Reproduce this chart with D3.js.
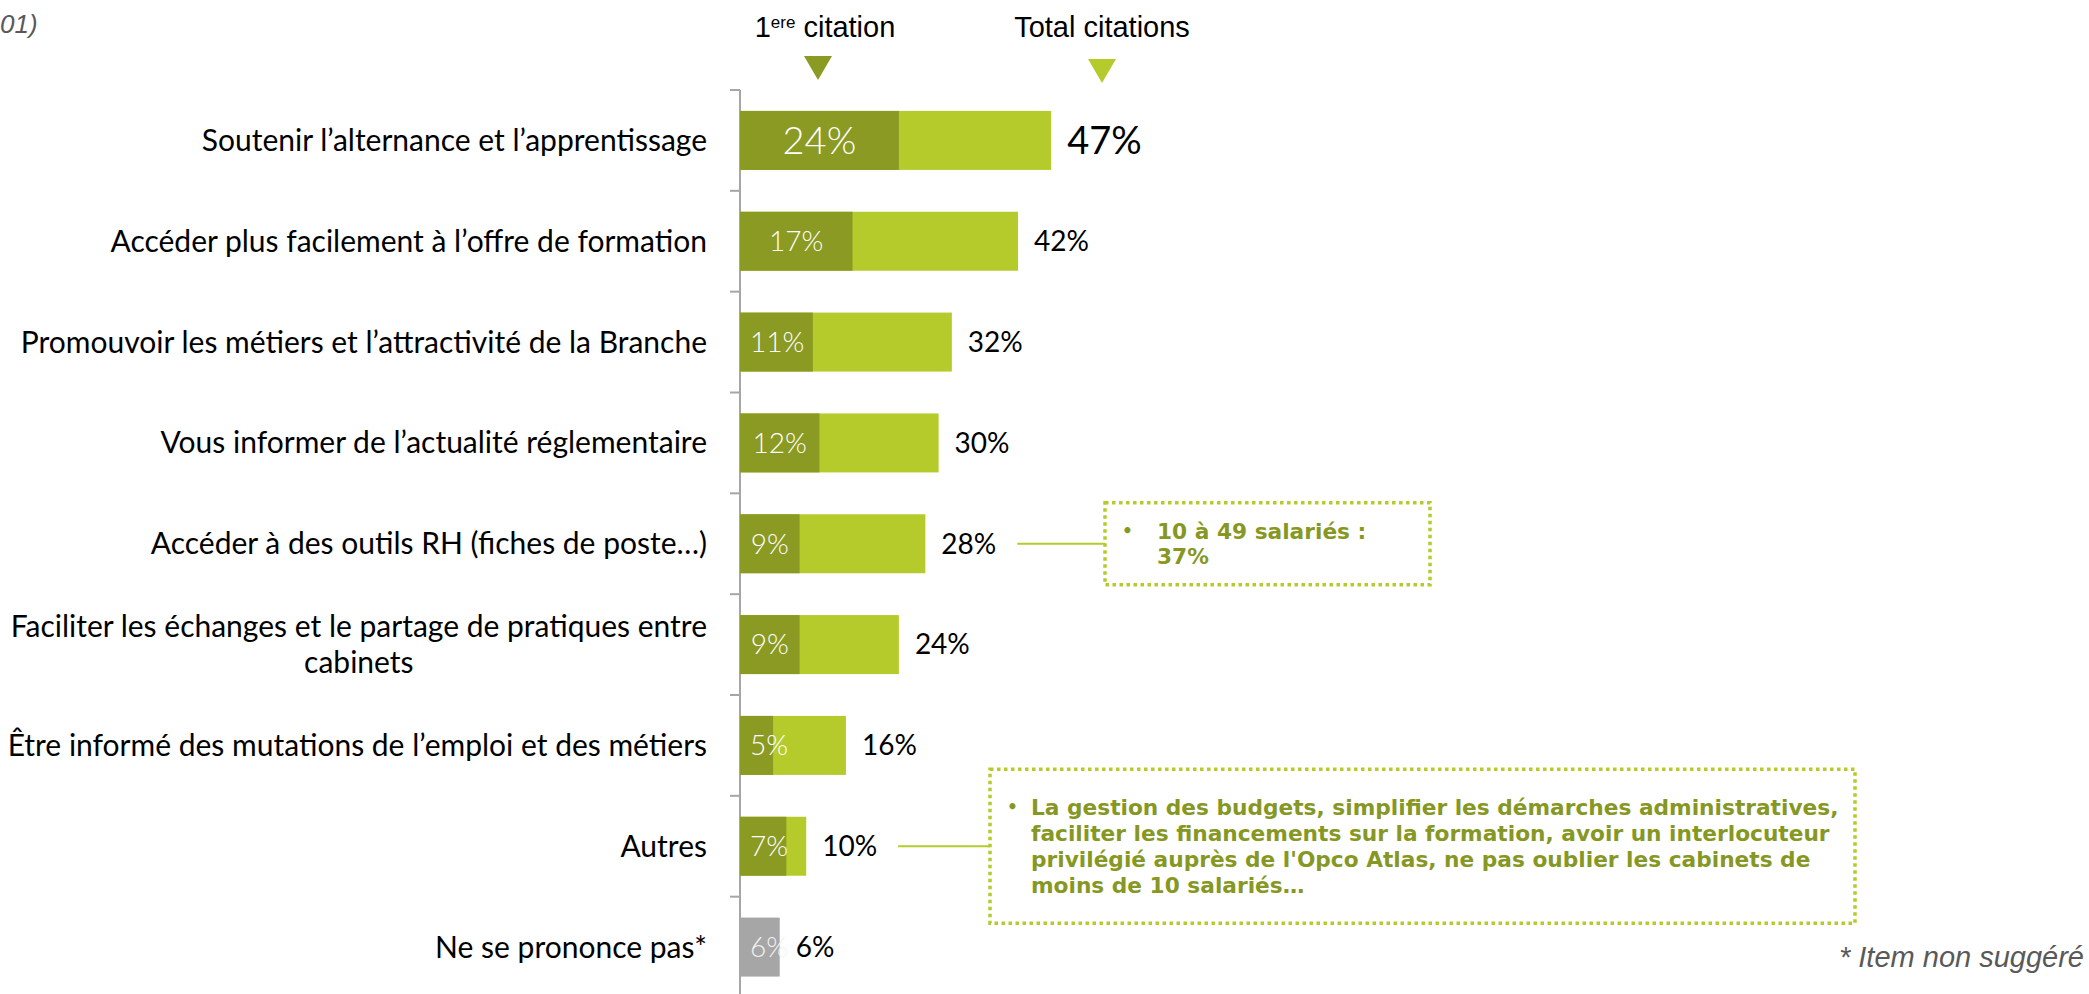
<!DOCTYPE html>
<html>
<head>
<meta charset="utf-8">
<script src="https://cdn.jsdelivr.net/npm/d3@7"></script>
<style>
  body { margin: 0; background: #fff; }
  svg { display: block; }
</style>
</head>
<body>
<div id="chart"></div>
<script>
'use strict'

const categories = [
	'Soutenir l’alternance et l’apprentissage',
	'Accéder plus facilement à l’offre de formation',
	'Promouvoir les métiers et l’attractivité de la Branche',
	'Vous informer de l’actualité réglementaire',
	'Accéder à des outils RH (fiches de poste…)',
	'Faciliter les échanges et le partage de pratiques entre\ncabinets',
	'Être informé des mutations de l’emploi et des métiers',
	'Autres',
	'Ne se prononce pas*'
]
const firstCitation = [24, 17, 11, 12, 9, 9, 5, 7, 6]
const totalCitations = [47, 42, 32, 30, 28, 24, 16, 10, 6]
const neutralCategory = 'Ne se prononce pas*'

const legendFirst = ['1', 'ere', ' citation']
const legendTotal = 'Total citations'

const noteRH = ['10 à 49 salariés :', '37%']
const noteAutres = [
	'La gestion des budgets, simplifier les démarches administratives,',
	'faciliter les financements sur la formation, avoir un interlocuteur',
	'privilégié auprès de l\'Opco Atlas, ne pas oublier les cabinets de',
	'moins de 10 salariés…'
]
const sourceText = '01)'
const footnote = '* Item non suggéré'

const width = 2089,
		height = 994

const dark = '#8A9A23',
		light = '#B5CB2C',
		grey = '#A6A6A6',
		noteColor = '#869823'

const svg = d3.select('#chart').append('svg')
	.attr('width', width)
	.attr('height', height)

const x = d3.scaleLinear().domain([0, 100]).range([740, 740 + 662])
const y = d3.scaleBand()
	.domain(categories)
	.range([90, 997.5])
	.paddingInner(0.415)
	.paddingOuter(0.2075)

const rows = categories.map((c, i) => ({
	cat: c,
	first: firstCitation[i],
	total: totalCitations[i],
	neutral: c === neutralCategory,
	big: i === 0
}))

// axis line + ticks between categories
const bounds = categories.map(c => y(c) - y.step() * y.paddingInner() / 2)
svg.append('line')
	.attr('x1', x(0)).attr('x2', x(0))
	.attr('y1', bounds[0]).attr('y2', height)
	.attr('stroke', '#A6A6A6').attr('stroke-width', 2)
svg.append('g').selectAll('line')
	.data(bounds)
	.enter().append('line')
		.attr('x1', x(0) - 10).attr('x2', x(0))
		.attr('y1', d => d).attr('y2', d => d)
		.attr('stroke', '#A6A6A6').attr('stroke-width', 2)

// bars
const bar = svg.append('g').selectAll('g')
	.data(rows)
	.enter().append('g')

bar.append('rect')
	.attr('x', x(0))
	.attr('y', d => y(d.cat))
	.attr('width', d => x(d.total) - x(0))
	.attr('height', y.bandwidth())
	.attr('fill', d => d.neutral ? grey : light)

bar.filter(d => !d.neutral).append('rect')
	.attr('x', x(0))
	.attr('y', d => y(d.cat))
	.attr('width', d => x(d.first) - x(0))
	.attr('height', y.bandwidth())
	.attr('fill', dark)

// inside labels (1ere citation)
bar.append('text')
	.attr('y', d => y(d.cat) + y.bandwidth() / 2)
	.attr('dy', '.35em')
	.attr('font-family', 'Lato')
	.attr('font-weight', 300)
	.attr('font-size', d => d.big ? 38 : 28)
	.attr('fill', d => d.neutral ? '#F2F2F2' : '#fff')
	.text(d => d.first + '%')
	.each(function(d) {
		const w = this.getComputedTextLength()
		const cx = (x(0) + x(d.first)) / 2
		const left = Math.max(cx - w / 2, x(0) + 10)
		d3.select(this).attr('x', left)
	})

// total labels
const valueLabels = bar.append('text')
	.attr('x', d => x(d.total) + 16)
	.attr('y', d => y(d.cat) + y.bandwidth() / 2)
	.attr('dy', '.35em')
	.attr('font-family', 'Lato')
	.attr('font-size', d => d.big ? 38 : 28)
	.attr('fill', '#000')
	.text(d => d.total + '%')

// category labels
const catLabels = svg.append('g').selectAll('text')
	.data(rows)
	.enter().append('text')
		.attr('text-anchor', 'middle')
		.attr('font-family', 'Lato')
		.attr('font-size', 30)
		.attr('fill', '#000')

catLabels.each(function(d) {
	const lines = d.cat.split('\n')
	const el = d3.select(this)
	const cy = y(d.cat) + y.bandwidth() / 2
	const lh = 36
	lines.forEach((l, k) => {
		el.append('tspan')
			.attr('y', cy + (k - (lines.length - 1) / 2) * lh)
			.attr('dy', '.35em')
			.text(l)
	})
	// right-align the block, lines centred on each other
	const w = d3.max(el.selectAll('tspan').nodes(), n => n.getComputedTextLength())
	el.selectAll('tspan').attr('x', 707 - w / 2)
})

// legend
const lg = svg.append('g').attr('font-family', 'Liberation Sans, Arial').attr('fill', '#000')
const t1 = lg.append('text').attr('x', 825).attr('y', 37).attr('text-anchor', 'middle').attr('font-size', 29)
t1.append('tspan').text(legendFirst[0])
t1.append('tspan').attr('font-size', 17).attr('baseline-shift', '55%').text(legendFirst[1])
t1.append('tspan').text(legendFirst[2])
lg.append('text').attr('x', 1102).attr('y', 37).attr('text-anchor', 'middle').attr('font-size', 29).text(legendTotal)
lg.append('path').attr('d', 'M804,56L832,56L818,80Z').attr('fill', dark)
lg.append('path').attr('d', 'M1088,59L1116,59L1102,83Z').attr('fill', light)

// callouts
const callout = (idx, boxX, boxW, boxH, lines, firstBase, lineH, textPad) => {
	const d = rows[idx]
	const cy = y(d.cat) + y.bandwidth() / 2
	const lbl = valueLabels.filter((r, i) => i === idx).node()
	const lx = x(d.total) + 16 + lbl.getComputedTextLength() + 21
	const top = cy - boxH / 2
	svg.append('line')
		.attr('x1', lx).attr('x2', boxX)
		.attr('y1', cy).attr('y2', cy)
		.attr('stroke', light).attr('stroke-width', 2)
	svg.append('rect')
		.attr('x', boxX).attr('y', top)
		.attr('width', boxW).attr('height', boxH)
		.attr('fill', 'none')
		.attr('stroke', light).attr('stroke-width', 3.5)
		.attr('stroke-dasharray', '3.5 3.5')
	const g = svg.append('g')
		.attr('font-family', 'DejaVu Sans, Verdana')
		.attr('font-weight', 'bold')
		.attr('font-size', 21.7)
		.attr('fill', noteColor)
	g.append('text').attr('x', boxX + 17).attr('y', top + firstBase - 2).attr('font-size', 17).text('•')
	lines.forEach((l, k) => {
		g.append('text')
			.attr('x', boxX + textPad)
			.attr('y', top + firstBase + k * lineH)
			.text(l)
	})
}
callout(4, 1105, 325, 82, noteRH, 36, 25, 52)
callout(7, 990, 865, 154, noteAutres, 46, 26, 41)

// source (cut off) and footnote
svg.append('text')
	.attr('x', 0).attr('y', 33)
	.attr('font-family', 'Liberation Sans, Arial')
	.attr('font-style', 'italic')
	.attr('font-size', 26)
	.attr('fill', '#595959')
	.text(sourceText)
svg.append('text')
	.attr('x', 2084).attr('y', 967)
	.attr('text-anchor', 'end')
	.attr('font-family', 'Liberation Sans, Arial')
	.attr('font-style', 'italic')
	.attr('font-size', 29)
	.attr('fill', '#595959')
	.text(footnote)
</script>
</body>
</html>
